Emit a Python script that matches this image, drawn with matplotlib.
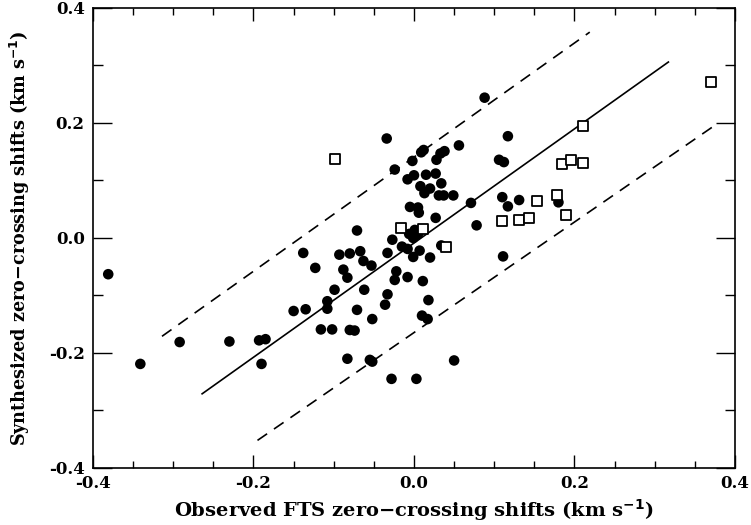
import numpy as np
import matplotlib
matplotlib.use("Agg")
import matplotlib.pyplot as plt
from matplotlib.ticker import MultipleLocator, FormatStrFormatter

# filled circles: observed vs synthesized shifts (km/s)
dots_x = [-0.381, -0.341, -0.292, -0.230, -0.193, -0.185, -0.190, -0.150, -0.135,
          -0.138, -0.123, -0.116, -0.102, -0.108, -0.108, -0.099, -0.093, -0.080,
          -0.067, -0.088, -0.083, -0.063, -0.053, -0.062, -0.071, -0.052, -0.080,
          -0.074, -0.083, -0.055, -0.052, -0.071, -0.034, -0.024, -0.027, -0.033,
          -0.033, -0.036, -0.028, 0.003, 0.050, -0.022, -0.024, -0.008, 0.011,
          0.018, 0.010, 0.017, -0.015, -0.008, 0.007, -0.001, 0.020, 0.034,
          -0.006, 0.001, 0.005, -0.001, -0.005, 0.005, 0.006, 0.027, 0.013,
          0.031, 0.037, 0.049, 0.008, 0.020, 0.034, -0.008, 0.000, 0.015,
          0.027, -0.002, 0.028, 0.012, 0.009, 0.038, 0.033, 0.056, 0.088,
          0.071, 0.078, 0.117, 0.106, 0.112, 0.110, 0.117, 0.131, 0.180, 0.111]
dots_y = [-0.063, -0.219, -0.181, -0.180, -0.178, -0.176, -0.219, -0.127, -0.124,
          -0.026, -0.052, -0.159, -0.159, -0.110, -0.123, -0.090, -0.029, -0.027,
          -0.023, -0.055, -0.069, -0.040, -0.048, -0.090, -0.125, -0.141, -0.160,
          -0.161, -0.210, -0.212, -0.215, 0.013, 0.173, 0.119, -0.003, -0.026,
          -0.098, -0.116, -0.245, -0.245, -0.213, -0.058, -0.073, -0.068, -0.075,
          -0.108, -0.135, -0.141, -0.015, -0.019, -0.022, -0.033, -0.034, -0.013,
          0.007, 0.014, 0.007, 0.000, 0.054, 0.053, 0.044, 0.035, 0.078,
          0.074, 0.074, 0.074, 0.090, 0.086, 0.095, 0.102, 0.109, 0.110,
          0.112, 0.134, 0.136, 0.153, 0.149, 0.151, 0.147, 0.161, 0.244,
          0.061, 0.022, 0.177, 0.136, 0.132, 0.071, 0.055, 0.066, 0.062, -0.032]

# open squares
sq_x = [-0.099, -0.016, 0.011, 0.040, 0.110, 0.131, 0.143, 0.153, 0.178, 0.190,
        0.185, 0.196, 0.211, 0.211, 0.370]
sq_y = [0.138, 0.017, 0.016, -0.015, 0.029, 0.031, 0.034, 0.065, 0.075, 0.040,
        0.128, 0.135, 0.131, 0.194, 0.272]

# fitted relation and its envelope (end points)
fit_x = [-0.264, 0.317]
fit_y = [-0.271, 0.306]
upper_x = [-0.314, 0.219]
upper_y = [-0.171, 0.358]
lower_x = [-0.195, 0.375]
lower_y = [-0.352, 0.196]

plt.rcParams['font.family'] = ['DejaVu Serif']
plt.rcParams['font.weight'] = 'bold'

fig = plt.figure(figsize=(7.51, 5.25), dpi=100)
ax = fig.add_axes([0.1238, 0.1086, 0.8549, 0.8762])

ax.plot(fit_x, fit_y, 'k-', linewidth=1.2)
ax.plot(upper_x, upper_y, 'k--', linewidth=1.2, dashes=(7, 5))
ax.plot(lower_x, lower_y, 'k--', linewidth=1.2, dashes=(7, 5))

ax.scatter(dots_x, dots_y, s=58, c='k', edgecolors='none', zorder=3)
ax.scatter(sq_x, sq_y, s=55, marker='s', facecolors='white',
           edgecolors='k', linewidths=1.3, zorder=4)

ax.set_xlim(-0.4, 0.4)
ax.set_ylim(-0.4, 0.4)

ax.xaxis.set_major_locator(MultipleLocator(0.2))
ax.xaxis.set_minor_locator(MultipleLocator(0.05))
ax.yaxis.set_major_locator(MultipleLocator(0.2))
ax.yaxis.set_minor_locator(MultipleLocator(0.1))
ax.xaxis.set_major_formatter(FormatStrFormatter('%.1f'))
ax.yaxis.set_major_formatter(FormatStrFormatter('%.1f'))

ax.tick_params(axis='both', which='both', direction='in', top=True, right=True,
               labelsize=12, width=1.0)
ax.tick_params(axis='x', which='major', length=9.5, pad=5)
ax.tick_params(axis='x', which='minor', length=5)
ax.tick_params(axis='y', which='major', length=14, pad=6)
ax.tick_params(axis='y', which='minor', length=7)
for s in ax.spines.values():
    s.set_linewidth(1.2)

ax.set_xlabel(r'Observed FTS zero$-$crossing shifts (km s$^{\mathbf{-1}}$)',
              fontsize=14, fontweight='bold', labelpad=4)
ax.set_ylabel(r'Synthesized zero$-$crossing shifts (km s$^{\mathbf{-1}}$)',
              fontsize=12.7, fontweight='bold', labelpad=12)

fig.savefig('out.png', dpi=100)
